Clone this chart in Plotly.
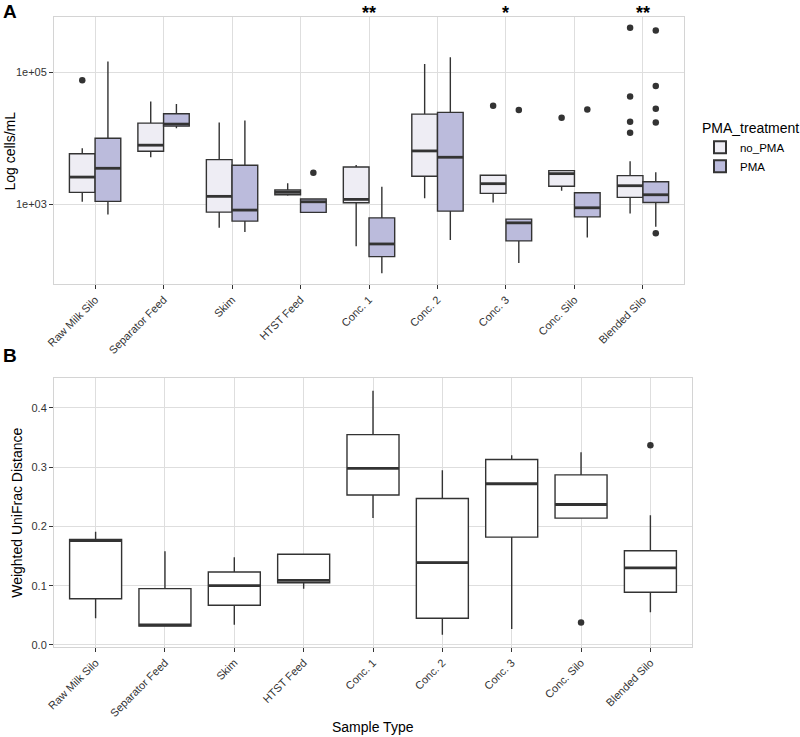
import plotly.graph_objects as go

# ---------------- Data ----------------
categories = ["Raw Milk Silo", "Separator Feed", "Skim", "HTST Feed", "Conc. 1",
              "Conc. 2", "Conc. 3", "Conc. Silo", "Blended Silo"]

# Panel A: box statistics (cells/mL)
nopma_lower = [1084, 5117, 437, 1336, 230, 1222, 1059, 1596, 723]
nopma_q1 = [1503, 6310, 755, 1384, 1047, 2636, 1452, 1858, 1262]
nopma_med = [2564, 7798, 1309, 1507, 1178, 6383, 2037, 2891, 1897]
nopma_q3 = [5781, 16827, 4710, 1633, 3648, 23067, 2729, 3206, 2698]
nopma_upper = [6982, 35892, 17219, 2060, 3917, 132740, 2729, 3206, 4457]
nopma_out_cat = ["Raw Milk Silo", "Conc. 3", "Conc. Silo",
                 "Blended Silo", "Blended Silo", "Blended Silo", "Blended Silo"]
nopma_out_val = [74820, 30832, 20277, 467740, 42756, 17620, 11995]

pma_lower = [697, 14125, 379, 748, 90, 287, 128, 312, 452]
pma_q1 = [1099, 15136, 552, 748, 160, 783, 277, 641, 1059]
pma_med = [3483, 16255, 811, 1084, 249, 5117, 520, 879, 1384]
pma_q3 = [9954, 23335, 3873, 1191, 619, 24434, 592, 1486, 2183]
pma_upper = [143880, 32734, 18450, 1191, 1832, 167490, 592, 1486, 3027]
pma_out_cat = ["HTST Feed", "Conc. 3", "Conc. Silo", "Blended Silo", "Blended Silo",
               "Blended Silo", "Blended Silo", "Blended Silo"]
pma_out_val = [2992, 26546, 27102, 425580, 61376, 27797, 17219, 362]

significance = {"Conc. 1": "**", "Conc. 3": "*", "Blended Silo": "**"}

# Panel B: weighted UniFrac distance box statistics
b_lower = [0.045, 0.032, 0.034, 0.095, 0.214, 0.017, 0.027, 0.214, 0.055]
b_q1 = [0.078, 0.032, 0.067, 0.105, 0.253, 0.045, 0.182, 0.214, 0.089]
b_med = [0.176, 0.034, 0.100, 0.109, 0.298, 0.139, 0.272, 0.237, 0.130]
b_q3 = [0.178, 0.095, 0.123, 0.153, 0.355, 0.247, 0.313, 0.287, 0.159]
b_upper = [0.191, 0.158, 0.148, 0.153, 0.429, 0.295, 0.320, 0.325, 0.219]
b_out_cat = ["Conc. Silo", "Blended Silo"]
b_out_val = [0.038, 0.337]

# ---------------- Styling ----------------
NOPMA_FILL = "#EEEDF4"
PMA_FILL = "#BBBBDC"
LINE = "#333333"
GRID = "#DEDEDE"
BORDER = "#D4D4D4"
TXT = "#333333"
FONT = "Liberation Sans, Arial, Helvetica, sans-serif"
DODGE = 0.1875
WA = 0.375
WB = 0.75

pos = {c: i + 1 for i, c in enumerate(categories)}
xs = [pos[c] for c in categories]

fig = go.Figure()


def median_segments(xc, meds, half):
    sx, sy = [], []
    for x, m in zip(xc, meds):
        sx += [x - half, x + half, None]
        sy += [m, m, None]
    return sx, sy


def add_group(name, fill, off, lo, q1, med, q3, up, ocat, oval, xa, ya, width, legend):
    xc = [x + off for x in xs]
    fig.add_trace(go.Box(
        x=xc, q1=q1, median=med, q3=q3, lowerfence=lo, upperfence=up,
        width=width, fillcolor=fill, line=dict(color=LINE, width=1.4),
        whiskerwidth=0, boxpoints=False, name=name, showlegend=legend,
        xaxis=xa, yaxis=ya, hoverinfo="skip"))
    sx, sy = median_segments(xc, med, width / 2)
    fig.add_trace(go.Scatter(x=sx, y=sy, mode="lines", line=dict(color=LINE, width=2.8),
                             showlegend=False, xaxis=xa, yaxis=ya, hoverinfo="skip"))
    fig.add_trace(go.Scatter(x=[pos[c] + off for c in ocat], y=oval, mode="markers",
                             marker=dict(color=LINE, size=6.5), showlegend=False,
                             xaxis=xa, yaxis=ya, hoverinfo="skip"))


add_group("no_PMA", NOPMA_FILL, -DODGE, nopma_lower, nopma_q1, nopma_med, nopma_q3,
          nopma_upper, nopma_out_cat, nopma_out_val, "x", "y", WA, True)
add_group("PMA", PMA_FILL, DODGE, pma_lower, pma_q1, pma_med, pma_q3,
          pma_upper, pma_out_cat, pma_out_val, "x", "y", WA, True)
add_group("B", "white", 0, b_lower, b_q1, b_med, b_q3, b_upper,
          b_out_cat, b_out_val, "x2", "y2", WB, False)

axis_common = dict(showgrid=True, gridcolor=GRID, gridwidth=1, showline=True,
                   linecolor=BORDER, linewidth=1, mirror=True, ticks="outside",
                   ticklen=4, tickcolor=LINE, tickwidth=1, zeroline=False,
                   automargin=False,
                   tickfont=dict(family=FONT, size=11, color=TXT))

fig.update_layout(
    width=800, height=737,
    margin=dict(l=54, r=108, t=17, b=90, autoexpand=False),
    paper_bgcolor="white", plot_bgcolor="white",
    font=dict(family=FONT, color="black"),
    xaxis=dict(domain=[0, 0.9875], range=[0.4, 9.6], tickvals=xs, ticktext=categories,
               tickangle=-45, anchor="y", **axis_common),
    yaxis=dict(domain=[0.576, 1.0], type="log", range=[1.788, 5.833],
               tickvals=[1e3, 1e5], ticktext=["1e+03", "1e+05"], anchor="x",
               **axis_common),
    xaxis2=dict(domain=[0, 1.0], range=[0.4, 9.6], tickvals=xs, ticktext=categories,
                tickangle=-45, anchor="y2", **axis_common),
    yaxis2=dict(domain=[0, 0.427], range=[-0.0035, 0.4505],
                tickvals=[0, 0.1, 0.2, 0.3, 0.4],
                ticktext=["0.0", "0.1", "0.2", "0.3", "0.4"], anchor="x2",
                **axis_common),
    legend=dict(x=1.0125, y=0.845, xanchor="left", yanchor="top",
                title=dict(text="PMA_treatment", font=dict(family=FONT, size=14, color="black")),
                font=dict(family=FONT, size=11.5, color="black"),
                tracegroupgap=2, itemsizing="constant", bgcolor="rgba(0,0,0,0)"),
)

ann = []
ann.append(dict(text="<b>A</b>", x=-0.083, y=1.0095, xref="paper", yref="paper",
                xanchor="left", yanchor="middle", showarrow=False,
                font=dict(family=FONT, size=19, color="black")))
ann.append(dict(text="<b>B</b>", x=-0.083, y=0.463, xref="paper", yref="paper",
                xanchor="left", yanchor="middle", showarrow=False,
                font=dict(family=FONT, size=19, color="black")))
for c, s in significance.items():
    ann.append(dict(text="<b>" + s + "</b>", x=pos[c], xref="x", y=1.006, yref="paper",
                    xanchor="center", yanchor="middle", showarrow=False,
                    font=dict(family=FONT, size=18, color="black")))
ann.append(dict(text="Log cells/mL", x=-0.069, y=0.788, xref="paper", yref="paper",
                textangle=-90, showarrow=False, xanchor="center", yanchor="middle",
                font=dict(family=FONT, size=14, color="black")))
ann.append(dict(text="Weighted UniFrac Distance", x=-0.058, y=0.213, xref="paper",
                yref="paper", textangle=-90, showarrow=False, xanchor="center",
                yanchor="middle", font=dict(family=FONT, size=14, color="black")))
ann.append(dict(text="Sample Type", x=0.5, y=-0.127, xref="paper", yref="paper",
                showarrow=False, xanchor="center", yanchor="middle",
                font=dict(family=FONT, size=14, color="black")))
fig.update_layout(annotations=ann)

fig.write_html("out.html", config={"displayModeBar": False},
               post_script="document.body.style.margin='0';document.body.style.overflow='hidden';")
